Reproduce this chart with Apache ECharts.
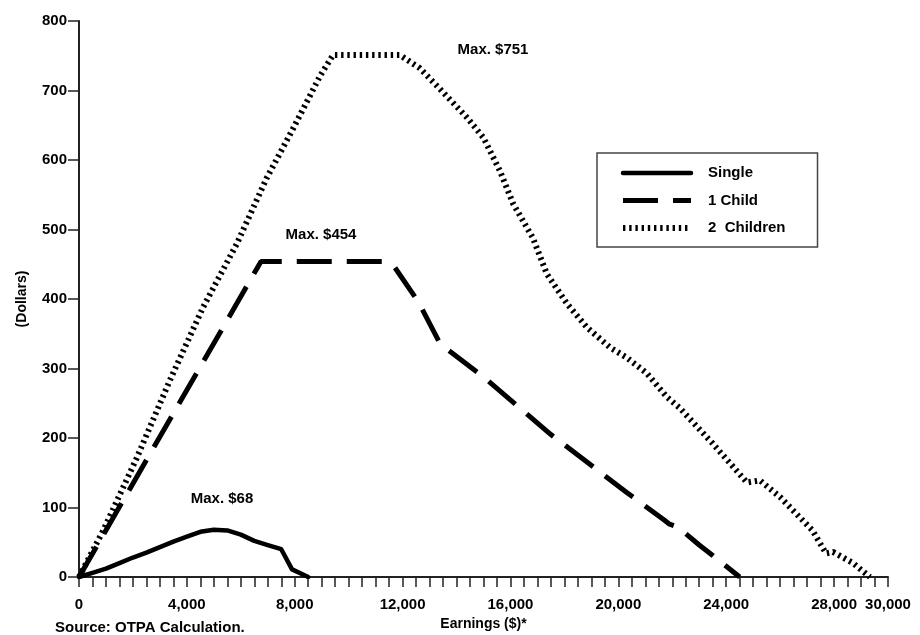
<!DOCTYPE html>
<html>
<head>
<meta charset="utf-8">
<script src="https://cdn.jsdelivr.net/npm/echarts@6/dist/echarts.min.js"></script>
<style>
  html, body { margin: 0; padding: 0; background: #fff; }
  #chart { width: 920px; height: 635px; }
</style>
</head>
<body>
<div id="chart"></div>
<script>
// ---- Data ----
var seriesNames = ['Single', '1 Child', '2  Children'];

var singleX = [0, 500, 1000, 1500, 2000, 2500, 3000, 3500, 4000, 4500, 5000, 5500, 6000, 6500, 7000, 7500, 7900, 8500];
var singleY = [0, 6, 12, 20, 28, 35, 43, 51, 58, 65, 68, 67, 61, 52, 46, 40, 11, 0];

var child1X = [0, 6750, 11300, 11700, 12600, 13400, 15000, 17500, 20300, 21700, 21900, 22200, 23000, 23500, 24500];
var child1Y = [0, 454, 454, 446, 395, 335, 288, 205, 122, 82, 76, 72, 46, 31, 0];

var child2X = [0, 900, 2150, 3370, 4600, 5860, 6960, 7950, 8940, 9420, 11900, 12640, 13390, 14390, 15000, 15600, 16100, 16830, 17350, 18100, 18840, 19700, 20300, 21060, 21800, 22280, 23500, 24770, 25250, 26000, 27200, 27700, 27960, 28700, 29330];
var child2Y = [0, 67, 172, 283, 388, 480, 574, 646, 721, 751, 751, 732, 702, 661, 632, 585, 537, 488, 436, 393, 359, 330, 316, 293, 259, 243, 192, 136, 139, 115, 67, 34, 36, 20, 0];

var xLabelValues = [0, 4000, 8000, 12000, 16000, 20000, 24000, 28000, 30000];
var annotations = [
  { text: 'Max. $751', x: 493, y: 50 },
  { text: 'Max. $454', x: 321, y: 235 },
  { text: 'Max. $68',  x: 222, y: 499 }
];

function pairs(xs, ys) {
  return xs.map(function (x, i) { return [x, ys[i]]; });
}

var FONT = '"Liberation Sans", Arial, sans-serif';
var styles = [
  { color: '#000', width: 4.5, type: 'solid' },
  { color: '#000', width: 5, type: [35, 15] },
  { color: '#000', width: 6, type: [2.4, 3.8] }
];

var chart = echarts.init(document.getElementById('chart'), null, { renderer: 'canvas' });

var option = {
  backgroundColor: '#ffffff',
  animation: false,
  grid: { left: 79, right: 32, top: 21, bottom: 58, outerBoundsMode: 'none', containLabel: false },
  xAxis: {
    type: 'value',
    min: 0,
    max: 30000,
    interval: 500,
    name: 'Earnings ($)*',
    nameLocation: 'middle',
    nameGap: 39,
    nameTextStyle: { fontFamily: FONT, fontWeight: 'bold', fontSize: 14, color: '#000' },
    axisLine: { show: true, lineStyle: { color: '#222', width: 2 } },
    axisTick: { show: true, inside: false, length: 10, lineStyle: { color: '#222', width: 1.5 } },
    splitLine: { show: false },
    axisLabel: {
      margin: 20,
      fontFamily: FONT, fontWeight: 'bold', fontSize: 15, color: '#000',
      showMinLabel: true, showMaxLabel: true,
      formatter: function (v) {
        if (xLabelValues.indexOf(v) === -1) return '';
        return v === 0 ? '0' : v.toLocaleString('en-US');
      }
    }
  },
  yAxis: {
    type: 'value',
    min: 0,
    max: 800,
    interval: 100,
    name: '(Dollars)',
    nameLocation: 'middle',
    nameRotate: 90,
    nameGap: 50,
    nameTextStyle: { fontFamily: FONT, fontWeight: 'bold', fontSize: 14, color: '#000' },
    axisLine: { show: true, lineStyle: { color: '#222', width: 2 } },
    axisTick: { show: true, inside: false, length: 11, lineStyle: { color: '#222', width: 1.5 } },
    splitLine: { show: false },
    axisLabel: { margin: 12, fontFamily: FONT, fontWeight: 'bold', fontSize: 15, color: '#000' }
  },
  legend: {
    orient: 'vertical',
    left: 597,
    top: 153,
    data: seriesNames.map(function (n, i) {
      return { name: n, itemStyle: { opacity: 0 }, lineStyle: styles[i] };
    }),
    itemWidth: 68,
    itemHeight: 14,
    itemGap: 11.5,
    padding: [12, 32, 11, 23],
    borderColor: '#444',
    borderWidth: 1.5,
    backgroundColor: '#fff',
    selectedMode: false,
    textStyle: { fontFamily: FONT, fontWeight: 'bold', fontSize: 15, color: '#000', lineHeight: 16, padding: [0, 0, 0, 12] }
  },
  series: [
    {
      name: seriesNames[0], type: 'line', symbol: 'none', smooth: false,
      data: pairs(singleX, singleY),
      lineStyle: { color: '#000', width: styles[0].width, type: styles[0].type, cap: 'round', join: 'round' },
      itemStyle: { color: '#000' }
    },
    {
      name: seriesNames[1], type: 'line', symbol: 'none', smooth: false,
      data: pairs(child1X, child1Y),
      lineStyle: { color: '#000', width: styles[1].width, type: styles[1].type },
      itemStyle: { color: '#000' }
    },
    {
      name: seriesNames[2], type: 'line', symbol: 'none', smooth: false,
      data: pairs(child2X, child2Y),
      lineStyle: { color: '#000', width: styles[2].width, type: styles[2].type },
      itemStyle: { color: '#000' }
    }
  ],
  graphic: annotations.map(function (a) {
    return {
      type: 'text', x: a.x, y: a.y,
      style: { text: a.text, fontFamily: FONT, fontWeight: 'bold', fontSize: 15, fill: '#000', align: 'center', verticalAlign: 'middle' }
    };
  }).concat([{
    type: 'text', x: 55, y: 628,
    style: { text: 'Source: OTPA Calculation.', fontFamily: FONT, fontWeight: 'bold', fontSize: 15, fill: '#000', align: 'left', verticalAlign: 'middle' }
  }])
};

chart.setOption(option);
</script>
</body>
</html>
